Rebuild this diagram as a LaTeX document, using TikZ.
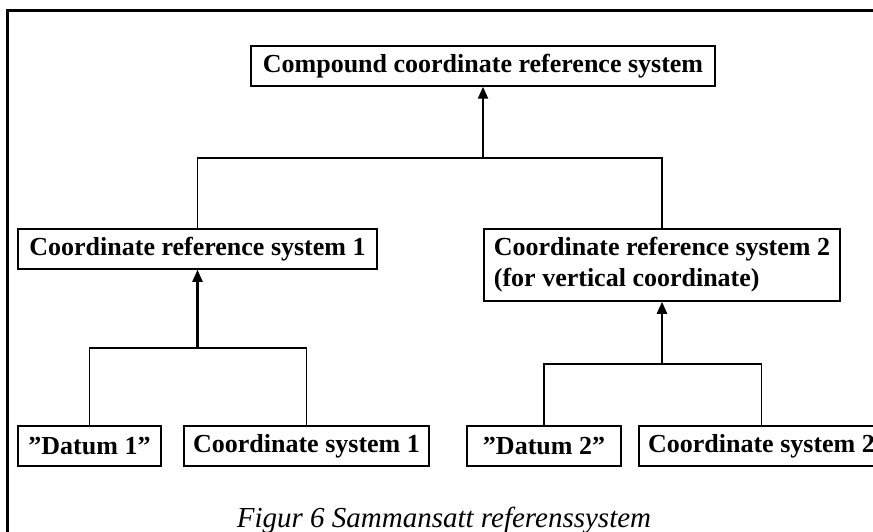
\documentclass[tikz,border=0pt]{standalone}
\usepackage{fontspec}
\setmainfont{Liberation Serif}
\usetikzlibrary{arrows.meta}

\begin{document}
\begin{tikzpicture}[x=1pt, y=-1pt,
  box/.style={draw, line width=1.5pt, inner xsep=9pt, inner ysep=0pt, minimum height=40pt,
    font=\fontsize{26}{31}\selectfont\bfseries},
  link/.style={line width=1.5pt},
  up/.style={-{Triangle[length=12pt, width=10pt]}, line width=2.2pt}]
\useasboundingbox (0, 0) rectangle (873, 532);
\draw [line width=3pt] (7, 532) -- (7, 11) -- (880, 11);

\node [box, minimum width=464pt] (comp) at (483, 66) {Compound coordinate reference system};
\node [box, minimum width=359pt] (crs1) at (197.5, 249) {Coordinate reference system 1};
\node [box, minimum width=356pt, minimum height=72pt, align=left] (crs2) at (662, 265) {Coordinate reference system 2\\(for vertical coordinate)};
\node [box, minimum width=143pt] (dat1) at (89.5, 446) {''Datum 1''};
\node [box, minimum width=245pt] (cs1) at (306.5, 446) {Coordinate system 1};
\node [box, minimum width=154pt] (dat2) at (544, 446) {''Datum 2''};
\node [box, minimum width=245pt] (cs2) at (761.5, 446) {Coordinate system 2};

\coordinate (jtop) at (483, 158);
\coordinate (jleft) at (197.5, 348);
\coordinate (jright) at (662, 364);

\draw [up] (jtop) -- (comp.south);
\draw [link] (crs1.north) |- (jtop) -| (crs2.north);
\draw [up] (jleft) -- (crs1.south);
\draw [link] (dat1.north) |- (jleft) -| (cs1.north);
\draw [up] (jright) -- (crs2.south);
\draw [link] (dat2.north) |- (jright) -| (cs2.north);

\node [anchor=base, inner sep=0pt, font=\fontsize{29}{33}\selectfont\itshape] (caption) at (444, 527) {Figur 6 Sammansatt referenssystem};
\end{tikzpicture}
\end{document}
